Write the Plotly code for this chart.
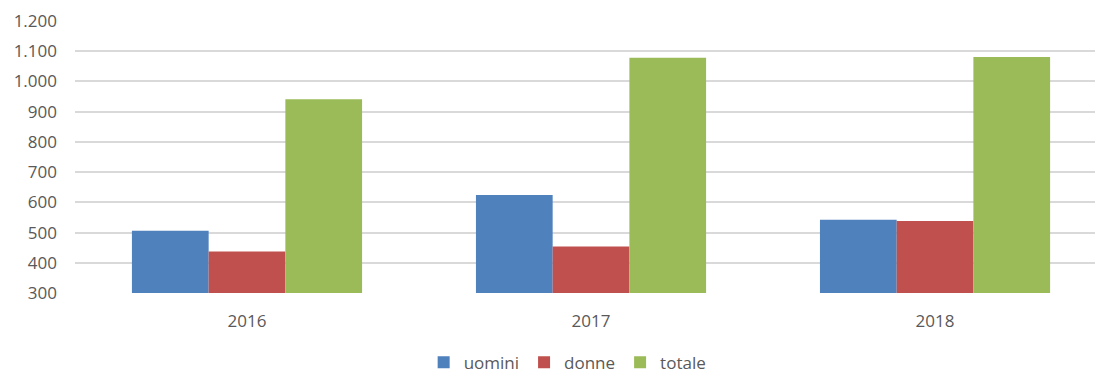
import plotly.graph_objects as go

years = ["2016", "2017", "2018"]
uomini = [506, 624, 542]
donne = [437, 454, 538]
totale = [941, 1078, 1081]

series = [
    ("uomini", uomini, "#4f81bd"),
    ("donne", donne, "#c0504d"),
    ("totale", totale, "#9bbb59"),
]

fig = go.Figure()
for name, vals, color in series:
    fig.add_trace(go.Bar(
        x=years, y=vals, name=name,
        marker=dict(color=color, line=dict(width=0)),
    ))

font_family = "Open Sans, Noto Sans, sans-serif"

fig.update_layout(
    width=1095, height=376,
    margin=dict(l=75, r=0, t=21, b=83, autoexpand=False),
    paper_bgcolor="white", plot_bgcolor="white",
    barmode="group", bargap=0.331, bargroupgap=0,
    separators=",.",
    font=dict(family=font_family, size=17, color="#595959"),
    xaxis=dict(
        type="category", range=[-0.5, 2.465],
        showgrid=False, showline=False, ticks="",
        ticklabelstandoff=16,
        tickfont=dict(size=17, color="#595959"),
    ),
    yaxis=dict(
        range=[300, 1200], dtick=100, tick0=300,
        tickformat=",d",
        showgrid=True, gridcolor="#d9d9d9", gridwidth=1.5,
        zeroline=False, showline=False, ticks="",
        ticklabelstandoff=17,
        tickfont=dict(size=17, color="#595959"),
    ),
    legend=dict(
        orientation="h", x=0.483, xanchor="center",
        y=-0.19, yanchor="top",
        font=dict(size=17, color="#595959"),
        itemwidth=30, tracegroupgap=0,
    ),
    showlegend=True,
)

fig.write_html("out.html")
